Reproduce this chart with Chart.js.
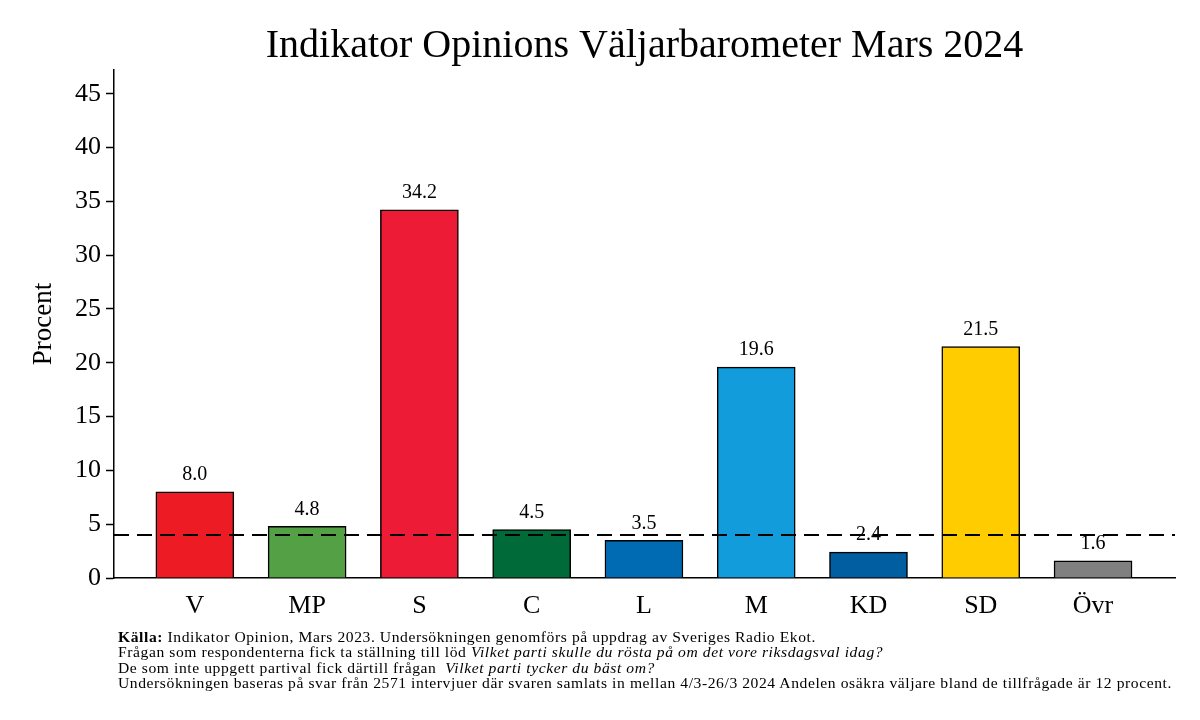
<!DOCTYPE html>
<html>
<head>
<meta charset="utf-8">
<script src="https://cdn.jsdelivr.net/npm/chart.js@4/dist/chart.umd.min.js"></script>
<style>
  body { margin: 0; background: #fff; }
  #wrap { position: relative; width: 1200px; height: 720px; }
  #note {
    position: absolute; left: 118px; top: 629px;
    font-family: "Liberation Serif", serif; font-size: 15.6px; line-height: 15.3px; color: #000;
    letter-spacing: 0.58px; white-space: nowrap;
  }
</style>
</head>
<body>
<div id="wrap">
  <canvas id="chart" width="1200" height="720"></canvas>
  <div id="note">
    <b>Källa:</b> Indikator Opinion, Mars 2023. Undersökningen genomförs på uppdrag av Sveriges Radio Ekot.<br>
    Frågan som respondenterna fick ta ställning till löd <i>Vilket parti skulle du rösta på om det vore riksdagsval idag?</i><br>
    De som inte uppgett partival fick därtill frågan&nbsp; <i>Vilket parti tycker du bäst om?</i><br>
    Undersökningen baseras på svar från 2571 intervjuer där svaren samlats in mellan 4/3-26/3 2024 Andelen osäkra väljare bland de tillfrågade är 12 procent.
  </div>
</div>
<script>
const parties = ["V", "MP", "S", "C", "L", "M", "KD", "SD", "Övr"];
const shares = [8.0, 4.8, 34.2, 4.5, 3.5, 19.6, 2.4, 21.5, 1.6];
const partyColours = ["#ED1C24", "#53A045", "#EE1B36", "#006A39", "#006AB3", "#129CDB", "#005EA1", "#FFCC00", "#808080"];
const yTicks = [0, 5, 10, 15, 20, 25, 30, 35, 40, 45];
const threshold = 4;

const serif = "'Liberation Serif', serif";

const valueLabels = {
  id: "valueLabels",
  afterDatasetsDraw(chart) {
    const ctx = chart.ctx;
    const meta = chart.getDatasetMeta(0);
    ctx.save();
    ctx.font = "20px " + serif;
    ctx.fillStyle = "#000";
    ctx.textAlign = "center";
    ctx.textBaseline = "bottom";
    meta.data.forEach((bar, i) => {
      ctx.fillText(shares[i].toFixed(1), bar.x, bar.y - 7);
    });
    ctx.restore();
  },
};

const thresholdLine = {
  id: "thresholdLine",
  afterDraw(chart) {
    const ctx = chart.ctx;
    const area = chart.chartArea;
    const y = chart.scales.y.getPixelForValue(threshold);
    ctx.save();
    ctx.strokeStyle = "#000";
    ctx.lineWidth = 2;
    ctx.setLineDash([15, 8]);
    ctx.beginPath();
    ctx.moveTo(area.left, y);
    ctx.lineTo(area.right, y);
    ctx.stroke();
    ctx.restore();
  },
};

const titleText = {
  id: "titleText",
  afterDraw(chart) {
    const ctx = chart.ctx;
    const area = chart.chartArea;
    ctx.save();
    ctx.font = "40px " + serif;
    ctx.fillStyle = "#000";
    ctx.textAlign = "center";
    ctx.textBaseline = "middle";
    ctx.fillText("Indikator Opinions Väljarbarometer Mars 2024", (area.left + area.right) / 2, 46);
    ctx.restore();
  },
};

new Chart(document.getElementById("chart"), {
  type: "bar",
  data: {
    datasets: [
      {
        data: shares.map((v, i) => ({ x: i, y: v })),
        backgroundColor: partyColours,
        borderColor: "#000",
        borderWidth: 1.5,
        barThickness: 78,
      },
    ],
  },
  plugins: [valueLabels, thresholdLine, titleText],
  options: {
    responsive: false,
    animation: false,
    layout: { padding: { left: 0, right: 25, top: 70, bottom: 92 } },
    plugins: { legend: { display: false }, tooltip: { enabled: false } },
    scales: {
      x: {
        type: "linear",
        offset: false,
        min: -0.72,
        max: 8.73,
        afterBuildTicks: (scale) => {
          scale.ticks = parties.map((_, i) => ({ value: i }));
        },
        afterFit: (scale) => {
          scale.height = 50;
        },
        grid: { display: false, drawTicks: false },
        border: { display: true, color: "#000", width: 1.5 },
        ticks: {
          callback: (value) => parties[value],
          font: { family: serif, size: 26 },
          color: "#000",
          padding: 13,
          maxRotation: 0,
          autoSkip: false,
        },
      },
      y: {
        min: 0,
        max: 47.2,
        afterBuildTicks: (scale) => {
          scale.ticks = yTicks.map((v) => ({ value: v }));
        },
        afterFit: (scale) => {
          scale.width = 114;
        },
        grid: { drawOnChartArea: false, drawTicks: true, tickLength: 8, color: "#000", tickWidth: 1.5 },
        border: { display: true, color: "#000", width: 1.5 },
        ticks: {
          font: { family: serif, size: 26 },
          color: "#000",
          padding: 5,
        },
        title: {
          display: true,
          text: "Procent",
          font: { family: serif, size: 27 },
          color: "#000",
          padding: { top: 28, bottom: 0 },
        },
      },
    },
  },
});
</script>
</body>
</html>
